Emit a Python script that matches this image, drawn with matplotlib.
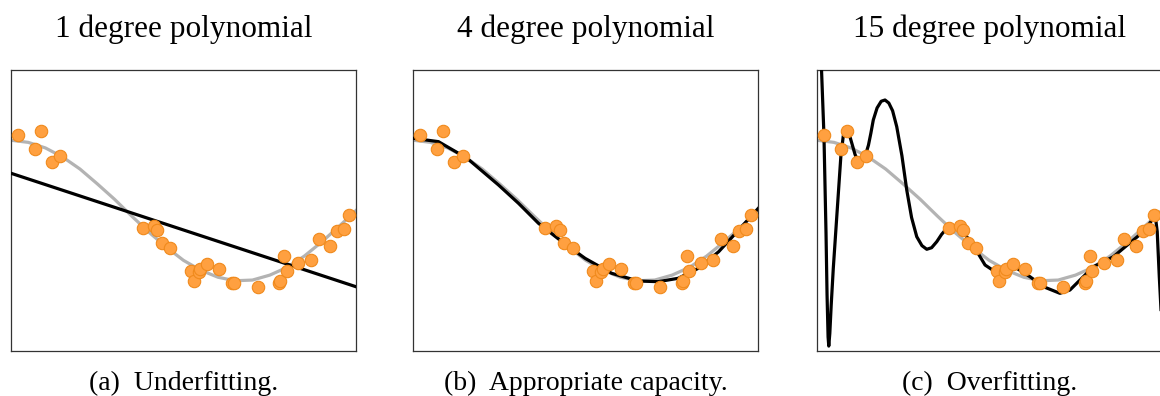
import matplotlib
matplotlib.use("Agg")
import matplotlib.pyplot as plt

# ---- data ----
x_pts = [0.020, 0.070, 0.087, 0.118, 0.143, 0.383, 0.415, 0.424, 0.438, 0.462,
         0.522, 0.529, 0.545, 0.549, 0.568, 0.603, 0.640, 0.646, 0.715, 0.778,
         0.781, 0.792, 0.799, 0.833, 0.870, 0.892, 0.926, 0.945, 0.964, 0.979]
y_pts = [1.075, 0.871, 1.136, 0.695, 0.776, -0.254, -0.216, -0.278, -0.458, -0.529,
         -0.861, -0.999, -0.880, -0.837, -0.766, -0.837, -1.027, -1.027, -1.084, -1.030,
         -1.000, -0.643, -0.861, -0.752, -0.705, -0.410, -0.500, -0.287, -0.263, -0.064]

# true function (gray)
x_true = [0.00, 0.05, 0.10, 0.15, 0.20, 0.25, 0.30, 0.35, 0.40, 0.45, 0.50,
          0.55, 0.60, 0.65, 0.70, 0.75, 0.80, 0.85, 0.90, 0.95, 1.00]
y_true = [1.00, 0.97, 0.89, 0.76, 0.59, 0.38, 0.16, -0.08, -0.31, -0.52, -0.71,
          -0.85, -0.95, -1.00, -0.99, -0.92, -0.81, -0.65, -0.45, -0.23, 0.00]

# degree 1 fit
x_fit1 = [0.0, 1.0]
y_fit1 = [0.53, -1.085]

# degree 4 fit
x_fit4 = [0.000, 0.073, 0.156, 0.247, 0.305, 0.363, 0.431, 0.498, 0.575, 0.652,
          0.710, 0.768, 0.826, 0.885, 0.943, 1.000]
y_fit4 = [1.028, 0.980, 0.743, 0.363, 0.102, -0.183, -0.444, -0.681, -0.894, -1.004,
          -1.013, -0.965, -0.823, -0.587, -0.278, 0.031]

# degree 15 fit
x_fit15 = [0.008, 0.014, 0.021, 0.027, 0.030, 0.033, 0.035, 0.038, 0.042, 0.048,
           0.058, 0.070, 0.077, 0.084, 0.090, 0.097, 0.104, 0.111, 0.118, 0.126,
           0.133, 0.140, 0.150, 0.157, 0.164, 0.175, 0.187, 0.198, 0.209, 0.220,
           0.232, 0.247, 0.261, 0.275, 0.290, 0.305, 0.319, 0.333, 0.348, 0.362,
           0.377, 0.396, 0.415, 0.435, 0.459, 0.488, 0.517, 0.551, 0.580, 0.618,
           0.657, 0.705, 0.734, 0.773, 0.802, 0.831, 0.860, 0.889, 0.918, 0.947,
           0.976, 0.981, 0.987, 0.993, 1.000]
y_fit15 = [3.00, 2.00, 1.075, -0.32, -1.20, -1.80, -1.93, -1.75, -1.35, -0.83,
           -0.10, 0.77, 1.06, 1.13, 1.136, 1.04, 0.92, 0.80, 0.719, 0.70,
           0.72, 0.766, 0.93, 1.10, 1.288, 1.46, 1.555, 1.573, 1.53, 1.42,
           1.193, 0.78, 0.292, -0.10, -0.373, -0.50, -0.552, -0.53, -0.444, -0.34,
           -0.254, -0.22, -0.254, -0.373, -0.538, -0.776, -0.871, -0.847, -0.823, -0.942,
           -1.084, -1.179, -1.132, -0.942, -0.800, -0.729, -0.658, -0.538, -0.420, -0.301,
           -0.111, -0.06, -0.30, -0.942, -1.60]

titles = ["1 degree polynomial", "4 degree polynomial", "15 degree polynomial"]
captions = ["(a)  Underfitting.", "(b)  Appropriate capacity.", "(c)  Overfitting."]
fits = [(x_fit1, y_fit1), (x_fit4, y_fit4), (x_fit15, y_fit15)]

W, H = 1160, 396
fig = plt.figure(figsize=(W / 100, H / 100), dpi=100)
lefts = [11, 413.3, 816.7]
ax_w, ax_top, ax_bot = 345, 70, 351
serif = ["Liberation Serif", "DejaVu Serif"]

for i in range(3):
    ax = fig.add_axes([lefts[i] / W, (H - ax_bot) / H, ax_w / W, (ax_bot - ax_top) / H])
    ax.plot(x_true, y_true, color="#b3b3b3", lw=2.3, zorder=2)
    ax.plot(fits[i][0], fits[i][1], color="black", lw=2.3, zorder=3,
            solid_joinstyle="round")
    ax.scatter(x_pts, y_pts, s=80, facecolor="#ffa040", edgecolor="#f08a1c",
               linewidths=0.8, zorder=4)
    ax.set_xlim(0, 1)
    ax.set_ylim(-2, 2)
    ax.set_xticks([])
    ax.set_yticks([])
    for sp in ax.spines.values():
        sp.set_color("#333333")
        sp.set_linewidth(0.9)
    cx = (lefts[i] + ax_w / 2) / W
    fig.text(cx, (H - 36.7) / H, titles[i], ha="center", va="baseline",
             fontsize=22.5, family=serif)
    fig.text(cx, (H - 390) / H, captions[i], ha="center", va="baseline",
             fontsize=20, family=serif)

fig.savefig("out.png", dpi=100)
